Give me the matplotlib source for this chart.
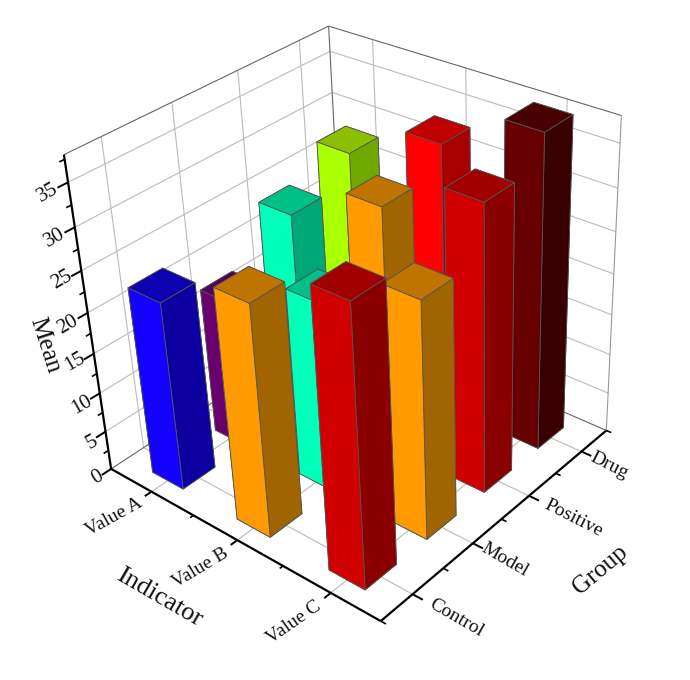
import matplotlib
matplotlib.use('Agg')
import matplotlib.pyplot as plt
import numpy as np

indicators = ['Value A', 'Value B', 'Value C']
groups = ['Control', 'Model', 'Positive', 'Drug']
means = [[23.3, 18.3, 24.6, 27.9],
         [28.1, 23.2, 29.8, 32.8],
         [33.2, 28.5, 34.5, 37.9]]
front_colors = [['#1400ff', '#6a0070', '#00ffb8', '#aaff00'],
                ['#ff9a00', '#00ffb8', '#ff9a00', '#ff0000'],
                ['#d00000', '#ff9a00', '#d00000', '#660000']]
top_colors = [['#0c00b0', '#520058', '#00c088', '#8ac000'],
              ['#c07400', '#00c088', '#c07400', '#c00000'],
              ['#a00000', '#c07400', '#a00000', '#480000']]
side_colors = [['#0c00a0', '#480050', '#00a878', '#70a800'],
               ['#a06400', '#00a878', '#a06400', '#a80000'],
               ['#8a0000', '#a06400', '#8a0000', '#380000']]
z_ticks = [0, 5, 10, 15, 20, 25, 30, 35]
z_minor = [2.5, 7.5, 12.5, 17.5, 22.5, 27.5, 32.5, 37.5]

xlim = (0.5, 3.5)
ylim = (0.5, 4.5)
zlim = (0, 38)
wx, wy = 0.185, 0.25
GRID = '#bbbbbb'
EDGE = '#666666'


def line3(xs, ys, zs, color=GRID, lw=0.8, zo=1):
    ax.plot(xs, ys, zs, color=color, lw=lw, zorder=zo, solid_capstyle='butt')


def label(px, py, s, rot, size=14):
    fig.text(px/690, 1-py/680, s, rotation=rot, fontsize=size, family='Liberation Serif',
             color='#111111', ha='center', va='center', rotation_mode='anchor')


fig = plt.figure(figsize=(6.9, 6.8), dpi=100)
ax = fig.add_axes([-1.44/690, 29.27/680, 1, 1], projection='3d', computed_zorder=False)
ax.set_axis_off()

# walls and floor
for x in range(1, 4):
    line3([x, x], ylim, [0, 0])
    line3([x, x], [ylim[1]]*2, zlim)
for y in range(1, 5):
    line3(xlim, [y, y], [0, 0])
    line3([xlim[0]]*2, [y, y], zlim)
for zt in z_ticks[1:]:
    line3([xlim[0]]*2, ylim, [zt, zt])
    line3(xlim, [ylim[1]]*2, [zt, zt])

# box outline
line3([xlim[0]]*2, ylim, [0, 0], EDGE)
line3(xlim, [ylim[1]]*2, [0, 0], EDGE)
line3([xlim[0]]*2, ylim, [zlim[1]]*2, EDGE)
line3(xlim, [ylim[1]]*2, [zlim[1]]*2, EDGE)
line3([xlim[0]]*2, [ylim[1]]*2, zlim, EDGE)
line3([xlim[1]]*2, [ylim[1]]*2, zlim, '#999999')

# bars, back to front
zo = 10
for i in range(3):
    for j in range(3, -1, -1):
        c = [side_colors[i][j], top_colors[i][j], front_colors[i][j],
             side_colors[i][j], side_colors[i][j], side_colors[i][j]]
        ax.bar3d(i+1-wx, j+1-wy, 0, 2*wx, 2*wy, means[i][j], color=c, shade=False,
                 edgecolor='#555555', linewidth=0.6, zorder=zo)
        zo += 1

# axes
line3(xlim, [ylim[0]]*2, [0, 0], 'black', 1.6, 5)
line3([xlim[1]]*2, ylim, [0, 0], 'black', 1.6, 5)
line3([xlim[0]]*2, [ylim[0]]*2, zlim, 'black', 1.6, 5)

# ticks
for x in [1, 2, 3]:
    line3([x, x], [ylim[0], ylim[0]-0.1], [0, 0], 'black', 1.4, 5)
for x in [1.5, 2.5]:
    line3([x, x], [ylim[0], ylim[0]-0.05], [0, 0], 'black', 1.2, 5)
for y in [1, 2, 3, 4]:
    line3([xlim[1], xlim[1]+0.1], [y, y], [0, 0], 'black', 1.4, 5)
for y in [0.5, 1.5, 2.5, 3.5, 4.5]:
    line3([xlim[1], xlim[1]+0.05], [y, y], [0, 0], 'black', 1.2, 5)
for zt in z_ticks:
    line3([xlim[0]]*2, [ylim[0], ylim[0]-0.14], [zt, zt], 'black', 1.4, 5)
for zt in z_minor:
    line3([xlim[0]]*2, [ylim[0], ylim[0]-0.07], [zt, zt], 'black', 1.2, 5)

ax.set_xlim(*xlim, view_margin=0)
ax.set_ylim(*ylim, view_margin=0)
ax.set_zlim(*zlim, view_margin=0)
ax.view_init(elev=32.13, azim=-47.51, roll=2.86)
ax.set_proj_type('persp', focal_length=0.455)
ax.set_box_aspect((1.0025, 1.0055, 1), zoom=0.919)

# tick labels and titles
x_label_pos = [(114, 517, 29), (200, 568, 31), (294, 622, 35)]
for s, (px, py, r) in zip(indicators, x_label_pos):
    label(px, py, s, r)
y_label_pos = [(456, 618, -30), (505, 560, -30), (574, 518, -27), (609, 466, -27)]
for s, (px, py, r) in zip(groups, y_label_pos):
    label(px, py, s, r)
z_label_pos = [(97, 478), (92, 442), (82, 405), (75, 362), (68, 325), (62, 280), (55, 238), (48, 193)]
for t, (px, py) in zip(z_ticks, z_label_pos):
    label(px, py, str(t), 30, 15)
label(159, 598, 'Indicator', -30, 19)
label(600, 570, 'Group', 40, 18)
label(45, 345, 'Mean', -72, 18)

plt.savefig('out.png', dpi=100)
